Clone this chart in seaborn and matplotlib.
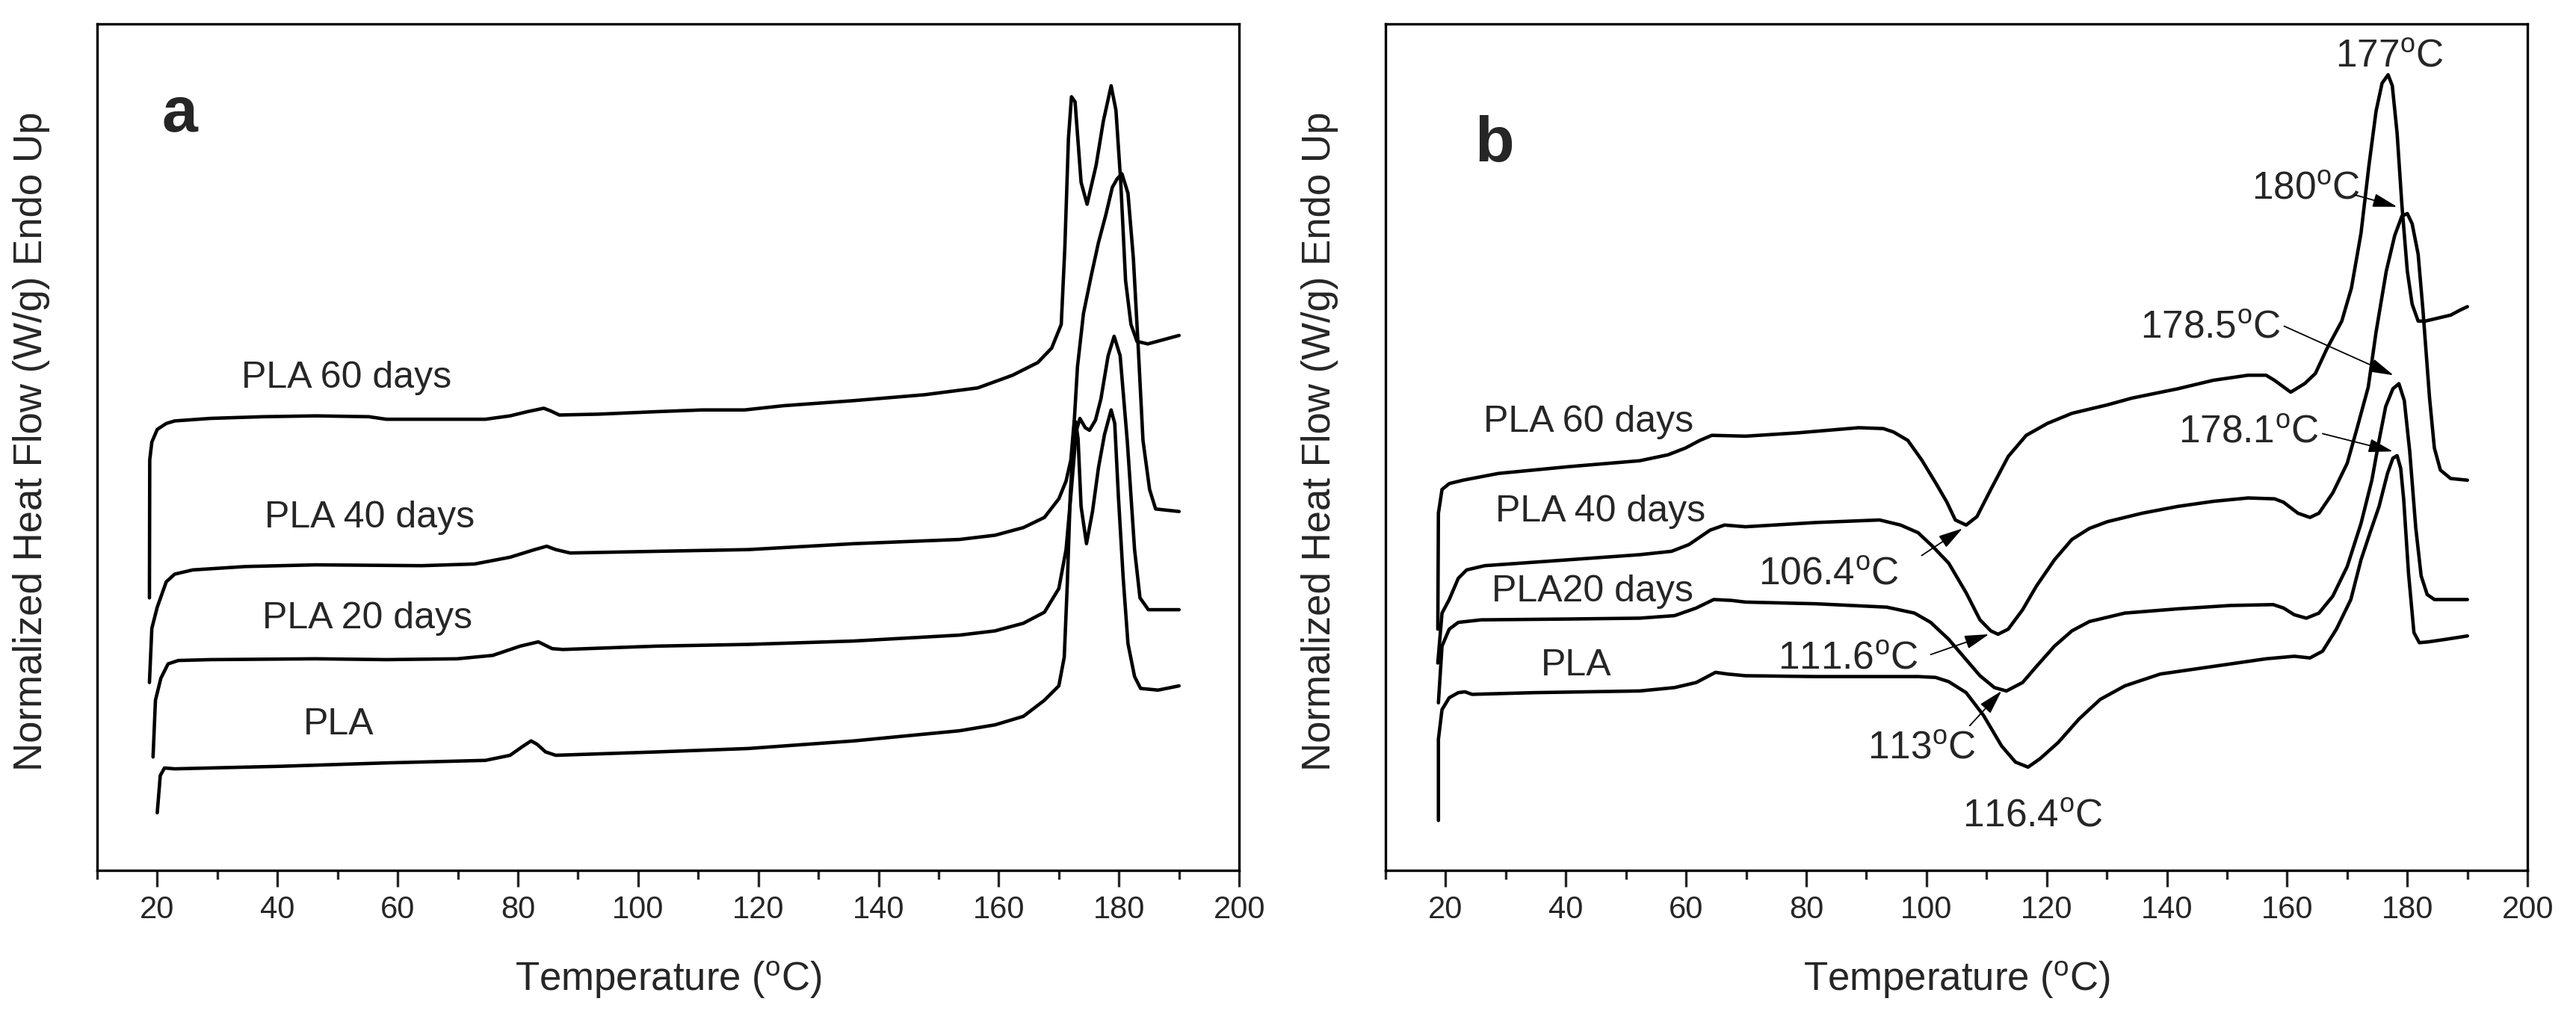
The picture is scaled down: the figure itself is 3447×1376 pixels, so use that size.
import matplotlib
matplotlib.use('Agg')
import matplotlib.pyplot as plt
import seaborn as sns
from matplotlib.ticker import MultipleLocator

# DSC curves (x = temperature in degC, y = relative heat flow, 0-100 axis units)

# panel a
a60_t = [18.7, 18.75, 19.1, 20.0, 21.5, 22.9, 28.8, 37.6, 46.4, 55.2, 58.1, 66.9, 74.6, 78.7, 81.6, 84.3, 85.4, 86.9,
         93.4, 103.2, 110.7, 117.7, 124.2, 135.9, 147.7, 156.5, 162.3, 166.5, 168.8, 170.4, 171.0, 171.6, 172.1, 172.7,
         173.7, 174.7, 176.2, 177.4, 178.7, 179.5, 180.3, 181.1, 182.0, 183.0, 184.8, 190.0]
a60_y = [32.2, 48.5, 50.6, 52.1, 52.8, 53.1, 53.4, 53.6, 53.7, 53.6, 53.3, 53.3, 53.3, 53.7, 54.2, 54.6, 54.3, 53.8,
         53.9, 54.2, 54.4, 54.4, 54.9, 55.5, 56.2, 57.0, 58.5, 60.0, 61.7, 64.5, 73.6, 86.5, 91.4, 90.8,
         81.3, 78.7, 83.3, 88.5, 92.7, 89.8, 81.3, 69.7, 64.5, 62.5, 62.2, 63.2]

a40_t = [18.7, 19.1, 20.0, 21.5, 22.9, 25.9, 34.7, 46.4, 64.0, 72.8, 78.7, 82.8, 84.8, 86.3, 88.7, 103.2, 118.3, 135.9,
         153.5, 159.4, 164.1, 167.6, 170.0, 171.2, 172.0, 172.6, 173.1, 174.1, 175.4, 176.6, 177.8, 178.9, 179.7, 180.5,
         181.5, 182.4, 183.2, 184.0, 185.1, 186.1, 190.0]
a40_y = [22.2, 28.6, 31.1, 34.1, 35.0, 35.5, 35.9, 36.1, 36.0, 36.2, 37.0, 37.9, 38.3, 37.9, 37.5, 37.7, 37.9, 38.6,
         39.1, 39.6, 40.5, 41.7, 43.9, 46.0, 48.5, 53.5, 59.5, 65.8, 70.3, 74.2, 77.4, 80.7, 81.7, 82.3,
         80.0, 72.3, 61.9, 50.8, 45.0, 42.7, 42.4]

a20_t = [19.3, 19.7, 20.6, 21.8, 23.5, 28.8, 46.4, 58.1, 69.9, 75.8, 80.4, 83.4, 85.7, 87.5, 103.2, 118.3, 135.9, 153.5,
         159.4, 164.1, 167.6, 170.0, 171.2, 172.0, 172.9, 173.5, 174.4, 175.1, 176.1, 177.0, 178.2, 179.2, 180.2, 181.4,
         182.6, 183.5, 184.9, 190.0]
a20_y = [13.4, 20.1, 22.7, 24.4, 24.8, 24.9, 25.0, 24.9, 25.0, 25.4, 26.5, 27.0, 26.2, 26.1, 26.5, 26.7, 27.1, 27.8,
         28.3, 29.2, 30.5, 33.3, 37.9, 44.3, 51.9, 53.4, 52.3, 52.0, 53.2, 55.7, 60.8, 63.1, 60.8, 50.6,
         37.9, 32.2, 30.8, 30.8]

a0_t = [20.0, 20.5, 21.2, 22.9, 40.5, 58.1, 74.6, 78.7, 80.7, 82.2, 83.2, 84.6, 86.3, 103.2, 118.3, 135.9, 153.5, 159.4,
        164.1, 167.6, 170.0, 170.9, 171.4, 171.9, 172.4, 172.8, 173.2, 173.7, 174.6, 175.6, 176.6, 177.6, 178.7, 179.3,
        179.9, 180.7, 181.5, 182.6, 183.6, 186.5, 190.0]
a0_y = [6.8, 11.2, 12.1, 12.0, 12.3, 12.7, 13.0, 13.6, 14.6, 15.3, 14.9, 14.0, 13.6, 14.0, 14.4, 15.3, 16.5, 17.2,
        18.2, 20.1, 21.8, 25.2, 33.7, 44.3, 50.6, 53.0, 51.0, 43.0, 38.6, 42.4, 47.6, 51.5, 54.4, 52.8,
        44.3, 34.6, 26.8, 22.9, 21.5, 21.3, 21.8]

# panel b
b60_t = [18.7, 18.8, 19.4, 20.6, 22.9, 28.8, 40.5, 52.3, 57.0, 59.9, 62.3, 64.3, 69.9, 78.7, 88.7, 92.8, 94.5, 96.9,
         99.2, 101.6, 103.4, 104.8, 106.6, 108.4, 110.7, 113.6, 116.6, 120.1, 124.2, 130.1, 134.2, 141.8, 147.7, 153.5,
         156.5, 157.9, 160.6, 162.9, 164.7, 166.6, 169.1, 170.7, 172.3, 173.6, 174.8, 175.8, 176.8, 177.5, 178.3, 179.1,
         180.0, 180.8, 181.8, 183.0, 187.2, 188.8, 190.0]
b60_y = [28.5, 42.2, 45.0, 45.7, 46.1, 46.9, 47.7, 48.4, 49.1, 49.9, 50.8, 51.4, 51.3, 51.7, 52.3, 52.2, 51.8, 50.8,
         48.5, 45.7, 43.5, 41.4, 40.8, 41.8, 45.0, 48.9, 51.4, 52.8, 54.0, 55.0, 55.8, 56.9, 57.9, 58.5,
         58.5, 57.9, 56.5, 57.5, 58.7, 61.6, 64.9, 68.8, 75.3, 83.2, 89.7, 93.0, 94.0, 92.7, 87.1, 78.6,
         70.8, 66.9, 64.9, 64.9, 65.6, 66.2, 66.6]

b40_t = [18.7, 19.4, 20.6, 22.1, 23.5, 26.5, 40.5, 52.3, 57.6, 60.5, 64.0, 66.4, 69.9, 81.6, 92.2, 95.7, 98.6, 101.0,
         103.7, 106.6, 108.9, 110.7, 111.9, 113.6, 116.0, 118.3, 121.3, 124.2, 127.1, 130.1, 135.9, 141.8, 147.7, 153.5,
         157.9, 159.4, 161.8, 163.8, 165.3, 167.6, 170.0, 171.7, 173.5, 174.8, 176.5, 177.9, 179.1, 180.0, 180.8, 181.8,
         182.6, 183.7, 184.5, 185.5, 187.2, 190.0]
b40_y = [24.5, 30.4, 32.0, 34.5, 35.5, 36.0, 36.7, 37.3, 37.7, 38.5, 40.2, 40.8, 40.6, 41.1, 41.4, 40.8, 39.9, 38.3,
         36.3, 32.8, 29.6, 28.3, 27.9, 28.5, 30.8, 33.6, 36.7, 39.1, 40.4, 41.2, 42.2, 43.0, 43.6, 44.0,
         43.9, 43.5, 42.2, 41.7, 42.2, 44.6, 48.1, 52.4, 57.1, 63.6, 70.8, 75.0, 77.3, 77.6, 76.4, 72.8,
         66.2, 55.8, 49.9, 47.3, 46.3, 46.1]

b20_t = [18.8, 19.4, 20.6, 22.1, 25.9, 40.5, 52.3, 58.1, 61.7, 64.6, 67.5, 69.9, 81.6, 93.4, 98.0, 100.7, 103.7, 106.6,
         108.9, 111.3, 113.3, 116.0, 118.3, 121.3, 124.2, 127.1, 133.0, 141.8, 150.6, 157.7, 159.4, 161.2, 163.2, 165.3,
         167.6, 170.0, 172.3, 174.1, 175.3, 176.4, 177.6, 178.6, 179.5, 180.4, 181.4, 182.3, 183.3, 184.5, 190.0]
b20_y = [19.8, 26.5, 28.5, 29.3, 29.6, 29.7, 29.8, 30.1, 31.0, 32.0, 31.9, 31.7, 31.5, 31.1, 30.4, 29.3, 27.3, 24.9,
         23.0, 21.6, 21.2, 22.2, 24.1, 26.5, 28.3, 29.4, 30.4, 30.9, 31.3, 31.4, 31.0, 30.2, 29.8, 30.4,
         32.4, 35.9, 41.0, 46.1, 50.8, 54.8, 56.9, 57.5, 55.5, 49.5, 40.5, 34.8, 32.6, 32.0, 32.0]

b0_t = [18.8, 18.8, 19.4, 20.6, 22.1, 23.2, 24.4, 34.7, 52.3, 58.1, 61.7, 64.9, 66.9, 69.9, 81.6, 98.6, 101.5, 103.7,
        106.6, 109.5, 112.5, 114.8, 116.9, 118.9, 121.9, 125.4, 128.9, 133.0, 138.9, 147.7, 156.5, 161.2, 163.8, 165.9,
        168.2, 170.6, 172.3, 173.8, 175.3, 176.7, 177.6, 178.3, 178.9, 179.4, 180.2, 181.1, 182.0, 183.5, 186.4, 190.0]
b0_y = [5.9, 15.5, 19.0, 20.4, 21.0, 21.1, 20.8, 21.0, 21.2, 21.6, 22.2, 23.4, 23.2, 23.0, 22.9, 22.9, 22.8, 22.3,
        21.0, 18.3, 14.7, 12.8, 12.2, 13.2, 15.1, 17.9, 20.2, 21.8, 23.2, 24.1, 25.0, 25.3, 25.1, 25.9,
        28.5, 32.0, 36.7, 39.9, 43.0, 46.9, 48.7, 49.0, 47.5, 43.8, 35.1, 28.1, 26.9, 27.0, 27.3, 27.7]

# curve labels: text, x, baseline y
a_labels = [('PLA 60 days', 51.5, 57.0), ('PLA 40 days', 55.3, 40.5),
            ('PLA 20 days', 54.9, 28.6), ('PLA', 50.2, 16.1)]
b_labels = [('PLA 60 days', 43.8, 51.8), ('PLA 40 days', 45.8, 41.2),
            ('PLA20 days', 44.4, 31.8), ('PLA', 41.7, 23.0)]

# peak annotations in panel b: text, text x, text baseline y, arrow tail, arrow head
b_notes = [('177', 177.0, 94.9, None, None),
           ('180', 163.1, 79.3, (171.3, 79.8), (178.3, 78.4)),
           ('178.5', 147.3, 62.9, (159.5, 64.3), (177.7, 58.5)),
           ('178.1', 153.6, 50.5, (165.9, 51.6), (177.6, 49.5)),
           ('106.4', 83.7, 33.8, (99.2, 37.2), (106.0, 40.4)),
           ('111.6', 86.9, 23.8, (100.7, 25.5), (110.4, 27.9)),
           ('113', 99.2, 13.2, (107.2, 17.1), (112.5, 21.2)),
           ('116.4', 117.7, 5.2, None, None)]

sns.set_style('ticks')
plt.rcParams['font.family'] = ['Liberation Sans', 'DejaVu Sans']
plt.rcParams['mathtext.fontset'] = 'custom'
plt.rcParams['mathtext.rm'] = 'Liberation Sans'
plt.rcParams['mathtext.it'] = 'Liberation Sans'

fig = plt.figure(figsize=(34.48, 13.76), dpi=100)
ax_a = fig.add_axes([0.0377, 0.1533, 0.4432, 0.8234])
ax_b = fig.add_axes([0.5377, 0.1533, 0.4432, 0.8234])

curves_a = [(a60_t, a60_y), (a40_t, a40_y), (a20_t, a20_y), (a0_t, a0_y)]
curves_b = [(b60_t, b60_y), (b40_t, b40_y), (b20_t, b20_y), (b0_t, b0_y)]

for ax, curves, labels, letter, lpos in [(ax_a, curves_a, a_labels, 'a', (23.7, 87.3)),
                                         (ax_b, curves_b, b_labels, 'b', (28.1, 83.8))]:
    for t, v in curves:
        line = sns.lineplot(x=t, y=v, ax=ax, color='black', linewidth=3.3, sort=False, estimator=None)
    for ln in ax.lines:
        ln.set_solid_joinstyle('round')
        ln.set_solid_capstyle('round')
    for txt, x, y in labels:
        ax.text(x, y, txt, fontsize=36, ha='center', va='baseline')
    ax.text(lpos[0], lpos[1], letter, fontsize=62, fontweight='bold', ha='center', va='baseline')

    ax.set_xlim(10, 200)
    ax.set_ylim(0, 100)
    ax.xaxis.set_major_locator(MultipleLocator(20))
    ax.xaxis.set_minor_locator(MultipleLocator(10))
    ax.set_xticks([20, 40, 60, 80, 100, 120, 140, 160, 180, 200])
    ax.set_yticks([])
    ax.tick_params(axis='x', which='major', direction='out', length=16, width=2.4, labelsize=30, pad=8)
    ax.tick_params(axis='x', which='minor', direction='out', length=8.5, width=2.4)
    for sp in ax.spines.values():
        sp.set_visible(True)
        sp.set_linewidth(2.4)
        sp.set_color('black')
    ax.set_xlabel(r'Temperature ($^{\rm o}$C)', fontsize=38)
    ax.xaxis.set_label_coords(0.5, -0.105)
    ax.set_ylabel('Normalized Heat Flow (W/g) Endo Up', fontsize=38)
    ax.yaxis.set_label_coords(-0.041, 0.507)

for txt, x, y, tail, head in b_notes:
    ax_b.text(x, y, txt + r'$^{\rm o}$C', fontsize=37, ha='center', va='baseline')
    if tail is not None:
        ax_b.annotate('', xy=head, xytext=tail,
                      arrowprops=dict(arrowstyle='-|>,head_length=1.0,head_width=0.28',
                                      mutation_scale=20, lw=1.3, color='black',
                                      shrinkA=0, shrinkB=0))

fig.savefig('out.png', dpi=100, facecolor='white')
